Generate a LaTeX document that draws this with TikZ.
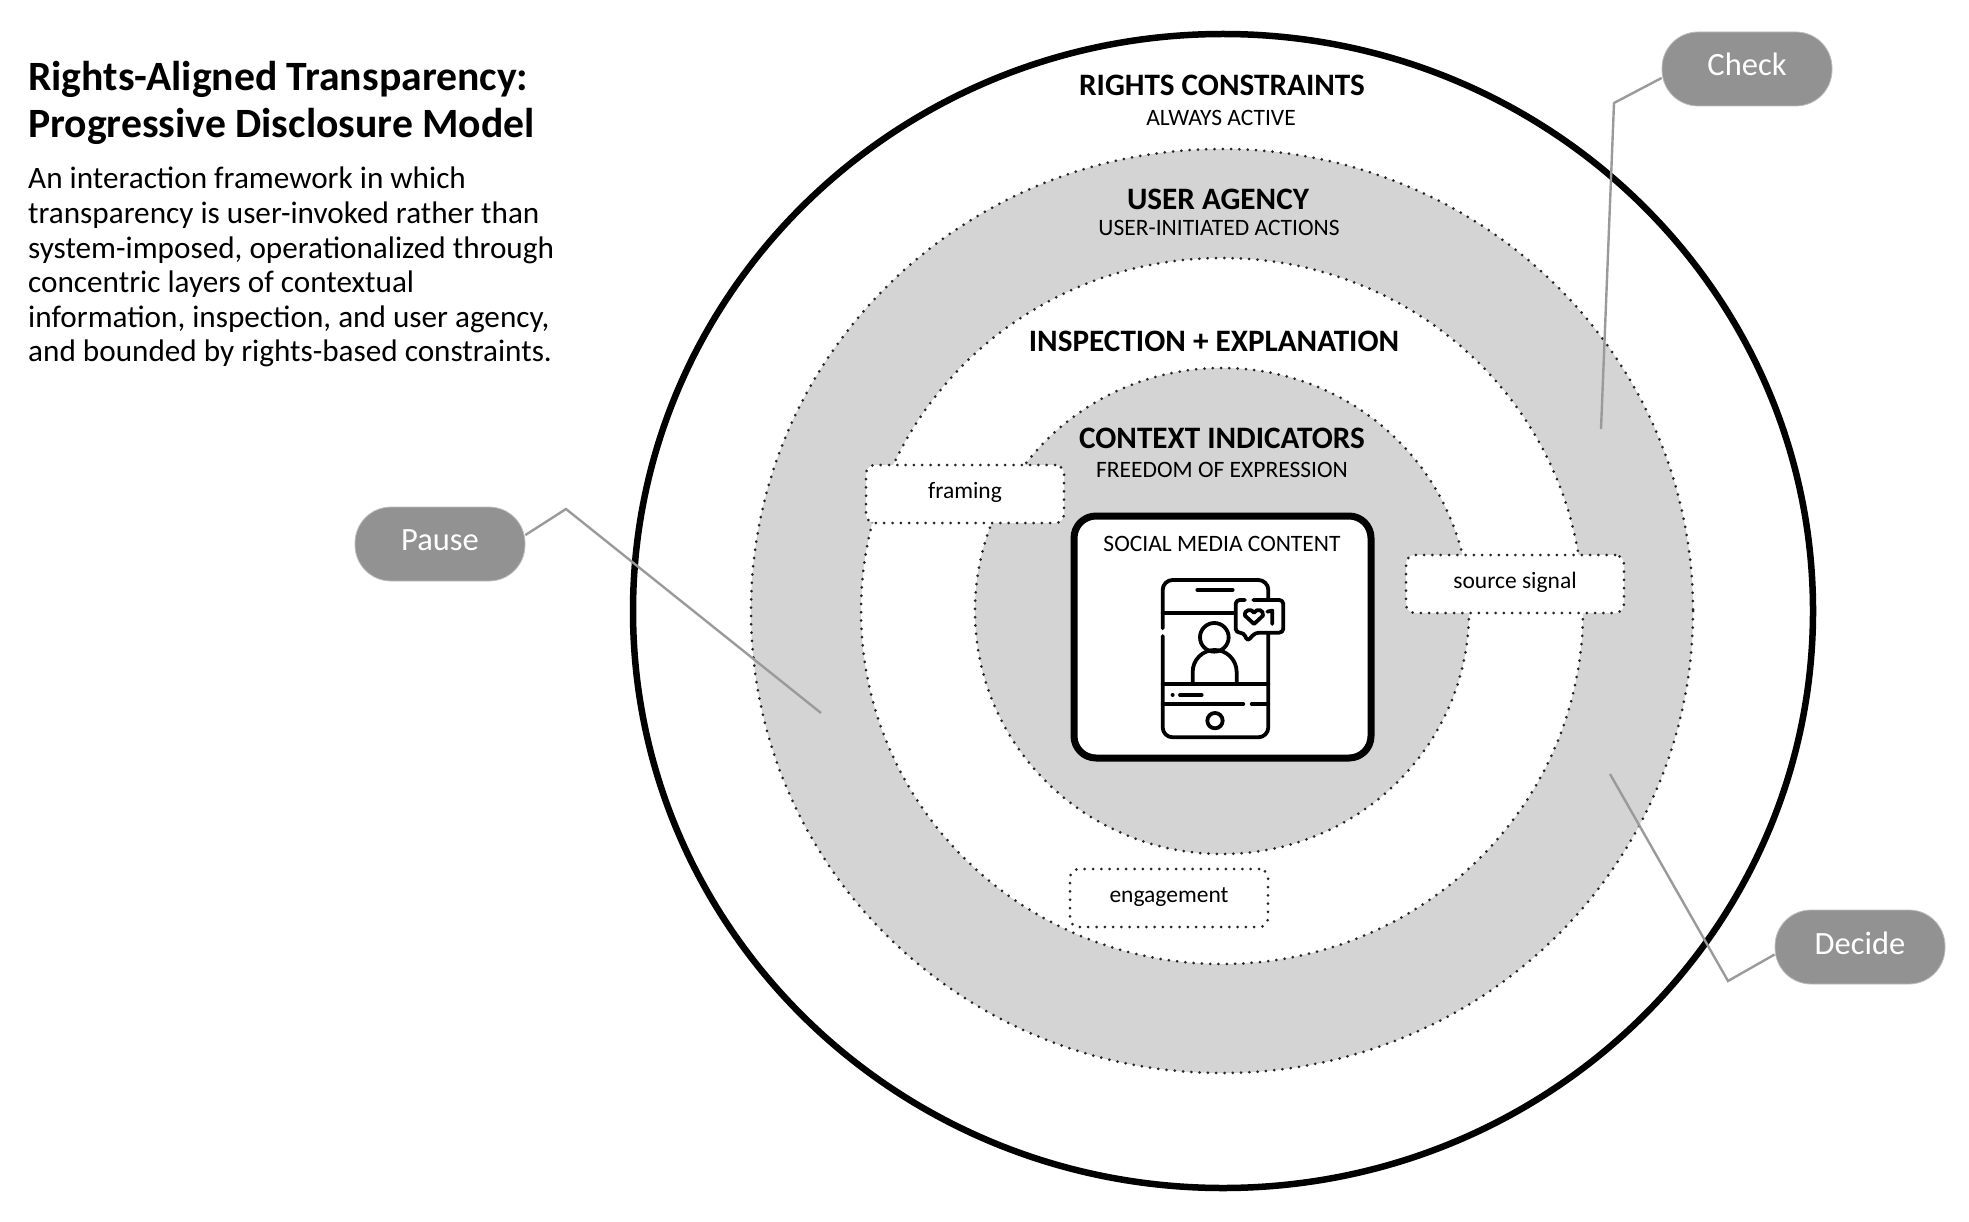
\documentclass[tikz,border=0pt]{standalone}
\usepackage{fontspec}
\setmainfont{Carlito}
\newcommand{\fsz}[1]{\fontsize{#1}{#1}\selectfont}
\definecolor{ringgray}{HTML}{D4D4D4}
\definecolor{pillgray}{HTML}{929292}
\definecolor{leadgray}{HTML}{9A9A9A}
\tikzset{
    dotline/.style={draw=black!85,line width=3pt,line cap=round,dash pattern=on 0pt off 8.3pt},
    tagbox/.style={dotline,fill=white,rounded corners=9pt,minimum width=198pt,minimum height=58pt,inner sep=0pt,font=\fsz{23.5}},
    pill/.style={fill=pillgray,draw=black!25,line width=.8pt,rounded corners=36pt,minimum width=170pt,minimum height=74pt,inner sep=0pt,text=white,font=\fsz{32.5}},
    lead/.style={draw=leadgray,line width=2.4pt},
    head/.style={font=\bfseries\fsz{31.2}},
    sub/.style={font=\fsz{23.5}},
    icon/.style={line width=3.8pt,line cap=round,line join=round},
}
\begin{document}
\begin{tikzpicture}[x=1pt,y=-1pt]
    \useasboundingbox (0,0) rectangle (1969,1222);
    % rings
    \draw[fill=white,line width=6.5pt] (1223,611) ellipse(590 and 577);
    \fill[ringgray,dotline] (1222,611) ellipse(471 and 462);
    \fill[white,dotline] (1222,611) ellipse(361 and 353);
    \fill[ringgray,dotline] (1222,611) ellipse(247 and 243);

    % title and text
    \node[anchor=west,align=left,inner sep=0pt,font=\bfseries\fsz{41.7}] (title) at (28,103) {Rights-Aligned Transparency:\\[4.5pt]Progressive Disclosure Model};
    \node[anchor=north west,align=left,inner sep=0pt,font=\fontsize{31.2}{34.6}\selectfont] (intro) at (28,167) {An interaction framework in which\\transparency is user-invoked rather than\\system-imposed, operationalized through\\concentric layers of contextual\\information, inspection, and user agency,\\and bounded by rights-based constraints.};

    % ring labels
    \node[head] (rights) at (1222,85) {RIGHTS CONSTRAINTS};
    \node[sub] (active) at (1221,118) {ALWAYS ACTIVE};
    \node[head] (agency) at (1218,199) {USER AGENCY};
    \node[sub] (actions) at (1219,228) {USER-INITIATED ACTIONS};
    \node[head] (inspect) at (1214,341) {INSPECTION + EXPLANATION};
    \node[head] (context) at (1222,438) {CONTEXT INDICATORS};
    \node[sub] (freedom) at (1222,470) {FREEDOM OF EXPRESSION};

    % content card
    \draw[fill=white,line width=7pt,rounded corners=22pt] (1074,516) rectangle (1371,758);
    \node[sub] (social) at (1222,544) {SOCIAL MEDIA CONTENT};

    % phone icon, in thirds of a pixel
    \begin{scope}[shift={(1040,500)},x=.3333pt,y=-.3333pt,icon]
        \draw[rounded corners=10pt] (368,385) -- (368,240) -- (685,240) -- (685,300);
        \draw[rounded corners=10pt] (685,400) -- (685,712) -- (368,712) -- (368,408);
        \draw (472,270) -- (578,270);
        \draw (368,340) -- (585,340);
        \draw[rounded corners=4pt] (615,300) -- (587,300) -- (587,398) -- (612,398) -- (622,425) -- (645,398) -- (730,398) -- (730,300) -- (640,300);
        \draw (642,372) -- (615,347) .. controls (612,328) and (635,325) .. (642,338) .. controls (650,325) and (672,328) .. (669,347) -- cycle;
        \draw (682,335) -- (697,332) -- (697,372);
        \draw (523,412) circle(43);
        \draw (458,550) -- (458,516) arc(180:360:66) -- (590,550);
        \draw (368,552) -- (685,552);
        \draw (368,612) -- (610,612);
        \draw (635,612) -- (685,612);
        \draw (420,585) -- (485,585);
        \fill (398,585) circle(6);
        \draw (525,662) circle(23);
    \end{scope}

    % tags
    \node[tagbox] (framing) at (965,494) {\raisebox{6.5pt}{framing}};
    \node[tagbox,minimum width=218pt] (source) at (1515,584) {\raisebox{6.5pt}{source signal}};
    \node[tagbox] (engage) at (1169,898) {\raisebox{5pt}{engagement}};

    % callouts
    \node[pill] (check) at (1747,69) {\raisebox{9.5pt}{Check}};
    \node[pill] (pause) at (440,544) {\raisebox{8.5pt}{Pause}};
    \node[pill] (decide) at (1860,947) {\raisebox{8.5pt}{Decide}};

    \coordinate (checkbend) at (1614,103);
    \coordinate (checkend) at (1601,429);
    \coordinate (pausebend) at (566,509);
    \coordinate (pauseend) at (821,713);
    \coordinate (decidebend) at (1728,981);
    \coordinate (decideend) at (1610,774);
    \draw[lead] (check.186) -- (checkbend) -- (checkend);
    \draw[lead] (pause.6) -- (pausebend) -- (pauseend);
    \draw[lead] (decide.185) -- (decidebend) -- (decideend);
\end{tikzpicture}
\end{document}
